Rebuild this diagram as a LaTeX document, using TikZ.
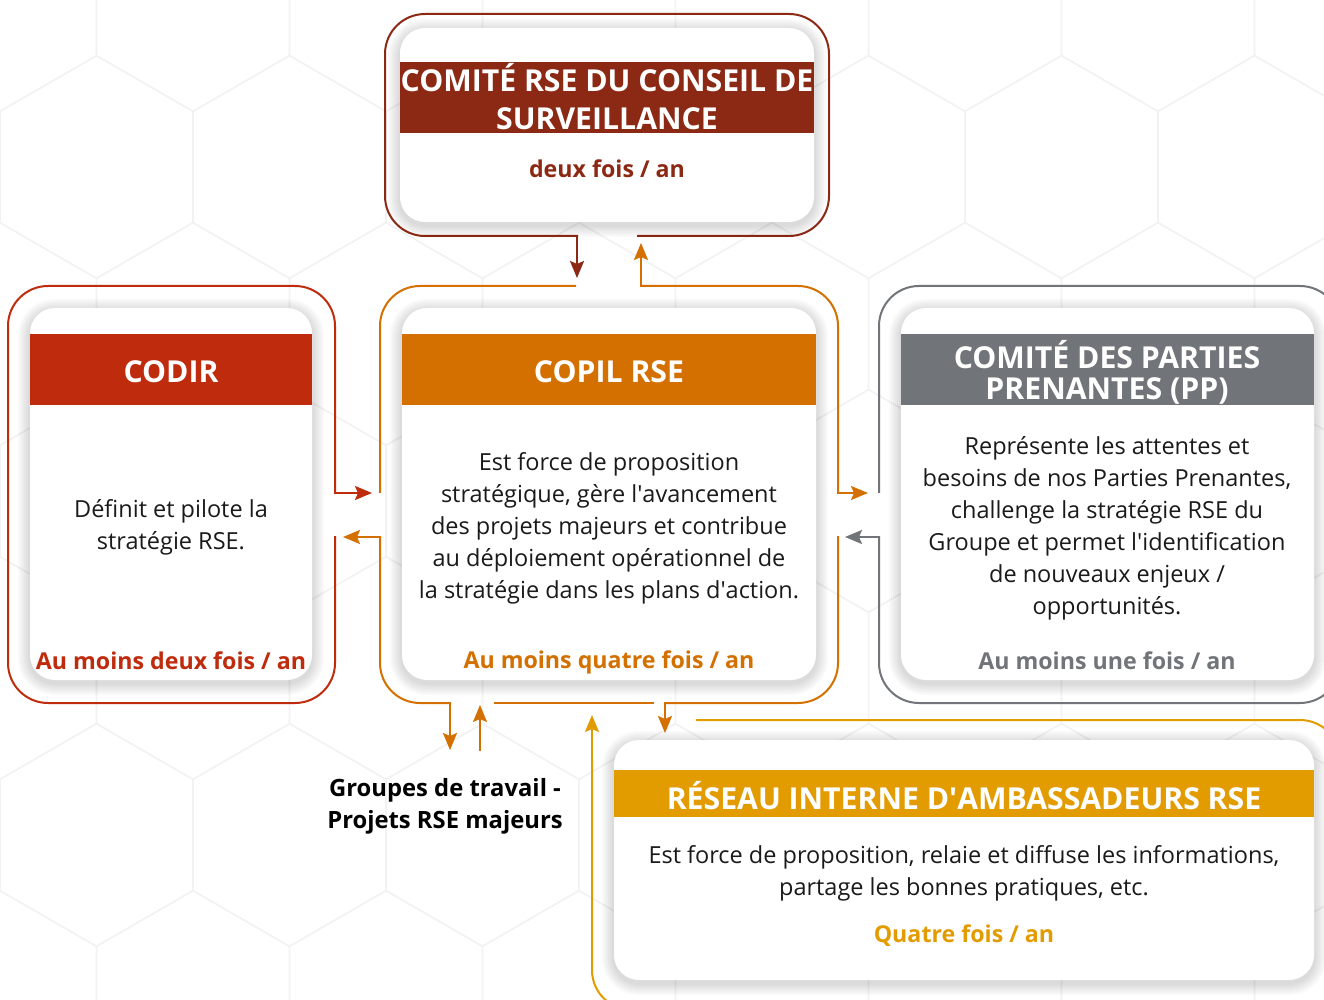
\documentclass[tikz,border=0pt]{standalone}
\usepackage{fontspec}
\setmainfont{Open Sans}
\usetikzlibrary{arrows.meta,calc}

\definecolor{topred}{HTML}{8C2914}
\definecolor{codirred}{HTML}{BE2B0D}
\definecolor{copilorange}{HTML}{D37000}
\definecolor{ppgray}{HTML}{717478}
\definecolor{resyellow}{HTML}{E39C00}
\definecolor{bodyblack}{HTML}{1A1A1A}

\newcommand{\headfont}{\bfseries\fontsize{15.1}{19}\selectfont}
\newcommand{\bodyfont}{\fontsize{11.75}{16}\selectfont}
\newcommand{\freqfont}{\bfseries\fontsize{11.6}{16}\selectfont}
\newcommand{\apos}{\textquotesingle}

% soft shadow under a card, corners given as (top left) (bottom right)
\newcommand{\softshadow}[2]{%
  \foreach \e in {1,...,6}{%
    \pgfmathsetmacro{\rr}{12.5+\e}
    \fill[black, fill opacity=0.022, rounded corners=\rr pt]
      ($#1+(-2*\e,-2*\e+3)$) rectangle ($#2+(2*\e,2*\e+3)$);
  }}

\tikzset{
  frame/.style={line width=1pt, line cap=rect, rounded corners=20pt},
  link/.style={line width=1pt, line cap=rect,
    -{Stealth[length=8.5pt, width=7pt, inset=1.5pt]}},
  card/.style={fill=white, rounded corners=12.5pt},
  headtext/.style={text=white, font=\headfont, align=center, inner sep=0pt},
  bodytext/.style={text=bodyblack, font=\bodyfont, align=center, inner sep=0pt},
  freqtext/.style={font=\freqfont, align=center, inner sep=0pt},
  hexline/.style={black!5, line width=0.5pt}
}

\begin{document}
\begin{tikzpicture}[x=0.5pt, y=-0.5pt]
  \useasboundingbox (0,0) rectangle (1324,1000);
  \clip (0,0) rectangle (1324,1000);
  \fill[white] (0,0) rectangle (1324,1000);

  % faint hexagons in the background
  \foreach \j [evaluate=\j as \off using {mod(\j,2)*96.5}] in {0,...,6}
    \foreach \i in {-1,...,7}
      \draw[hexline] (\i*193+\off,\j*167) +(30:111) -- +(90:111) -- +(150:111)
        -- +(210:111) -- +(270:111) -- +(330:111) -- cycle;

  % top committee frame
  \draw[frame, topred] (638,236) -- (829,236) -- (829,14) -- (385,14) -- (385,236) -- (577,236);
  \draw[link, topred] (577,236) -- (577,278);

  % CODIR frame
  \draw[frame, codirred] (335,537) -- (335,703) -- (8,703) -- (8,286) -- (335,286) -- (335,493);
  \draw[link, codirred] (335,493) -- (372,493);

  % COPIL frame
  \draw[frame, copilorange] (575,286) -- (380,286) -- (380,492);
  \draw[link, copilorange] (380,537) -- (343,537);
  \draw[frame, copilorange] (380,537) -- (380,703) -- (450,703);
  \draw[link, copilorange] (450,703) -- (450,750);
  \draw[link, copilorange] (480,750) -- (480,705);
  \draw[frame, copilorange] (495,703) -- (653,703);
  \draw[link, copilorange] (665,703) -- (665,733);
  \draw[frame, copilorange] (665,703) -- (838,703) -- (838,537);
  \draw[link, copilorange] (641,286) -- (641,243);
  \draw[frame, copilorange] (641,286) -- (838,286) -- (838,493);
  \draw[link, copilorange] (838,493) -- (868,493);

  % PP frame
  \draw[frame, ppgray] (879,492) -- (879,286) -- (1340,286) -- (1340,703) -- (879,703) -- (879,537);
  \draw[link, ppgray] (879,537) -- (845,537);

  % ambassadors frame
  \draw[frame, resyellow] (697,720) -- (1340,720) -- (1340,1010) -- (592,1010) -- (592,760);
  \draw[link, resyellow] (592,760) -- (592,715);

  % cards
  \softshadow{(400,28)}{(814,222)}
  \fill[card] (400,28) rectangle (814,222);
  \fill[topred] (400,62) rectangle (814,133);

  \softshadow{(30,308)}{(312,680)}
  \fill[card] (30,308) rectangle (312,680);
  \fill[codirred] (30,334) rectangle (312,405);

  \softshadow{(402,308)}{(816,680)}
  \fill[card] (402,308) rectangle (816,680);
  \fill[copilorange] (402,334) rectangle (816,405);

  \softshadow{(901,308)}{(1314,680)}
  \fill[card] (901,308) rectangle (1314,680);
  \fill[ppgray] (901,334) rectangle (1314,405);

  \softshadow{(614,740)}{(1314,980)}
  \fill[card] (614,740) rectangle (1314,980);
  \fill[resyellow] (614,770) rectangle (1314,817);

  % texts
  \node[headtext] (tophead) at (607,97) {COMITÉ RSE DU CONSEIL DE\\SURVEILLANCE};
  \node[freqtext, text=topred] (topfreq) at (607,169) {deux fois / an};

  \node[headtext] (codirhead) at (171,372) {CODIR};
  \node[bodytext] (codirbody) at (171,527) {Définit et pilote la\\stratégie RSE.};
  \node[freqtext, text=codirred] (codirfreq) at (171,661) {Au moins deux fois / an};

  \node[headtext] (copilhead) at (609,372) {COPIL RSE};
  \node[bodytext] (copilbody) at (609,528) {Est force de proposition\\stratégique, gère l\apos avancement\\des projets majeurs et contribue\\au déploiement opérationnel de\\la stratégie dans les plans d\apos action.};
  \node[freqtext, text=copilorange] (copilfreq) at (609,662) {Au moins quatre fois / an};

  \node[headtext, font=\bfseries\fontsize{15.1}{15.5}\selectfont] (pphead) at (1107,372) {COMITÉ DES PARTIES\\PRENANTES (PP)};
  \node[bodytext] (ppbody) at (1107,528) {Représente les attentes et\\besoins de nos Parties Prenantes,\\challenge la stratégie RSE du\\Groupe et permet l\apos identification\\de nouveaux enjeux /\\opportunités.};
  \node[freqtext, text=ppgray] (ppfreq) at (1107,661) {Au moins une fois / an};

  \node[headtext] (reshead) at (964,796) {RÉSEAU INTERNE D\apos AMBASSADEURS RSE};
  \node[bodytext] (resbody) at (964,873) {Est force de proposition, relaie et diffuse les informations,\\partage les bonnes pratiques, etc.};
  \node[freqtext, text=resyellow] (resfreq) at (964,936) {Quatre fois / an};

  \node[freqtext, text=black, font=\bfseries\fontsize{11.9}{16}\selectfont] (groupes) at (445,806) {Groupes de travail -\\Projets RSE majeurs};
\end{tikzpicture}
\end{document}
